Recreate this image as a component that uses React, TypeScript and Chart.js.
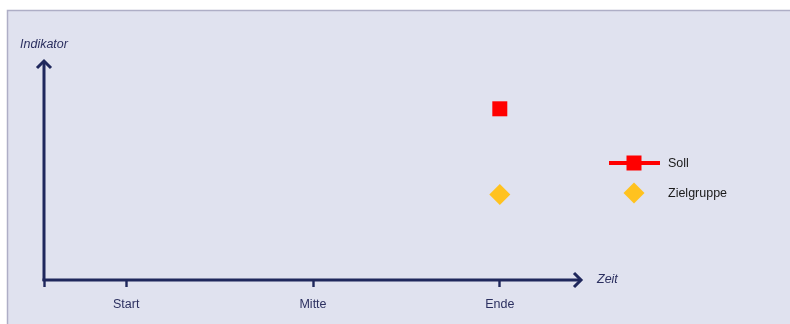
import React, { useEffect, useRef } from "react";
import { Chart, registerables } from "chart.js";

Chart.register(...registerables);

// Time positions on the x axis and their labels
const timeLabels = ["Start", "Mitte", "Ende"];
const timePositions = [1, 2, 3];

// Series values (indicator level at the end of the period)
const sollValues = [{ x: 3, y: 80 }];
const zielgruppeValues = [{ x: 3, y: 40 }];

const seriesNames = ["Soll", "Zielgruppe"];

const X_MIN = 0.56;
const X_MAX = 3.44;
const Y_MIN = 0;
const Y_MAX = 100;

const NAVY = "#1f275c";
const LABEL = "#2c3060";
const RED = "#ff0000";
const GOLD = "#ffc21f";

const panelPlugin = {
  id: "panel",
  beforeDraw(chart: any) {
    const { ctx, width, height } = chart;
    ctx.save();
    ctx.fillStyle = "#ffffff";
    ctx.fillRect(0, 0, width, height);
    ctx.fillStyle = "#e0e2ef";
    ctx.fillRect(7, 10, width, height);
    ctx.strokeStyle = "#aeaec6";
    ctx.lineWidth = 1.5;
    ctx.beginPath();
    ctx.moveTo(7.5, height + 2);
    ctx.lineTo(7.5, 10.5);
    ctx.lineTo(width + 2, 10.5);
    ctx.stroke();
    ctx.restore();
  },
};

const axesPlugin = {
  id: "arrowAxes",
  afterDraw(chart: any) {
    const { ctx, chartArea } = chart;
    const { left, right, top, bottom } = chartArea;
    ctx.save();
    ctx.strokeStyle = NAVY;
    ctx.lineWidth = 3;
    ctx.lineCap = "butt";
    ctx.lineJoin = "miter";
    const yTip = top - 6;
    const xTip = right;
    // y axis
    ctx.beginPath();
    ctx.moveTo(left, bottom + 1);
    ctx.lineTo(left, yTip + 1);
    ctx.stroke();
    ctx.beginPath();
    ctx.moveTo(left - 7, yTip + 8);
    ctx.lineTo(left, yTip + 1);
    ctx.lineTo(left + 7, yTip + 8);
    ctx.stroke();
    // x axis
    ctx.beginPath();
    ctx.moveTo(left - 1.5, bottom);
    ctx.lineTo(xTip - 1, bottom);
    ctx.stroke();
    ctx.beginPath();
    ctx.moveTo(xTip - 8, bottom - 7);
    ctx.lineTo(xTip - 1, bottom);
    ctx.lineTo(xTip - 8, bottom + 7);
    ctx.stroke();

    // axis titles
    ctx.fillStyle = LABEL;
    ctx.font = "italic 12.5px 'Liberation Sans', Arial, sans-serif";
    ctx.textBaseline = "middle";
    ctx.textAlign = "left";
    ctx.fillText("Indikator", 20, 45);
    ctx.fillText("Zeit", xTip + 15, bottom);

    // legend
    const lx = 634;
    const rows = [163, 193];
    const ds0 = chart.data.datasets[0];
    const ds1 = chart.data.datasets[1];
    ctx.strokeStyle = ds0.borderColor;
    ctx.lineWidth = 4;
    ctx.beginPath();
    ctx.moveTo(lx - 25, rows[0]);
    ctx.lineTo(lx + 26, rows[0]);
    ctx.stroke();
    ctx.fillStyle = ds0.backgroundColor;
    const s = 7.5;
    ctx.fillRect(lx - s, rows[0] - s, 2 * s, 2 * s);
    ctx.fillStyle = ds1.backgroundColor;
    const d = 10.5;
    ctx.beginPath();
    ctx.moveTo(lx - d, rows[1]);
    ctx.lineTo(lx, rows[1] - d);
    ctx.lineTo(lx + d, rows[1]);
    ctx.lineTo(lx, rows[1] + d);
    ctx.closePath();
    ctx.fill();
    ctx.fillStyle = "#1a1a1a";
    ctx.font = "12.5px 'Liberation Sans', Arial, sans-serif";
    ctx.fillText(seriesNames[0], 668, rows[0] + 0.5);
    ctx.fillText(seriesNames[1], 668, rows[1] + 0.5);
    ctx.restore();
  },
};

export default function App() {
  const canvasRef = useRef<HTMLCanvasElement | null>(null);

  useEffect(() => {
    const canvas = canvasRef.current;
    if (!canvas) return;
    const chart = new Chart(canvas, {
      type: "scatter",
      data: {
        datasets: [
          {
            label: seriesNames[0],
            data: sollValues,
            pointStyle: "rect",
            pointRadius: 10.6,
            pointHoverRadius: 10.6,
            backgroundColor: RED,
            borderColor: RED,
            borderWidth: 0,
          },
          {
            label: seriesNames[1],
            data: zielgruppeValues,
            pointStyle: "rectRot",
            pointRadius: 10.5,
            pointHoverRadius: 10.5,
            backgroundColor: GOLD,
            borderColor: GOLD,
            borderWidth: 0,
          },
        ],
      },
      options: {
        animation: false,
        responsive: false,
        maintainAspectRatio: false,
        layout: { padding: { left: 44, right: 208, top: 66, bottom: 0 } },
        plugins: {
          legend: { display: false },
          tooltip: { enabled: false },
        },
        scales: {
          x: {
            type: "linear",
            min: X_MIN,
            max: X_MAX,
            afterBuildTicks(scale: any) {
              scale.ticks = [X_MIN, ...timePositions].map((v) => ({ value: v }));
            },
            afterFit(scale: any) {
              scale.height = 44;
            },
            border: { display: false },
            grid: {
              drawOnChartArea: false,
              drawTicks: true,
              tickLength: 7,
              tickWidth: 2.4,
              tickColor: NAVY,
              color: NAVY,
            },
            ticks: {
              autoSkip: false,
              maxRotation: 0,
              padding: 10,
              color: LABEL,
              font: { family: "'Liberation Sans', Arial, sans-serif", size: 12.5 },
              callback(value: any) {
                const i = timePositions.indexOf(Number(value));
                return i >= 0 ? timeLabels[i] : "";
              },
            },
          },
          y: {
            display: false,
            min: Y_MIN,
            max: Y_MAX,
          },
        },
      },
      plugins: [panelPlugin, axesPlugin],
    } as any);
    return () => chart.destroy();
  }, []);

  return (
    <div style={{ position: "fixed", left: 0, top: 0, width: 790, height: 324 }}>
      <canvas ref={canvasRef} width={790} height={324} style={{ display: "block" }} />
    </div>
  );
}
